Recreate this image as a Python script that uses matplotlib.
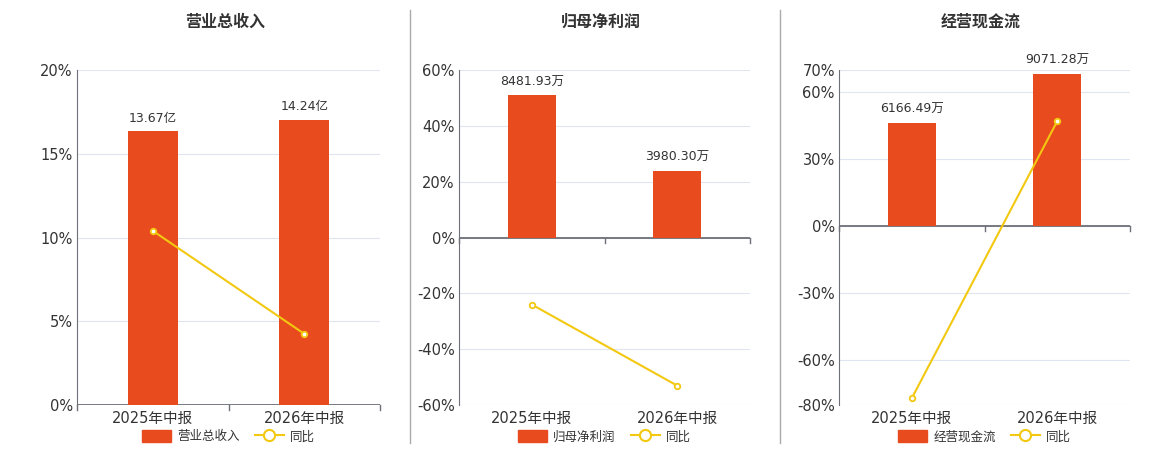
import numpy as np
import matplotlib.pyplot as plt
from matplotlib.lines import Line2D
from matplotlib.patches import Patch

plt.rcParams['font.family'] = ['DejaVu Sans', 'Noto Sans CJK SC']

periods = ['2025年中报', '2026年中报']

titles = ['营业总收入', '归母净利润', '经营现金流']

revenue = [13.67, 14.24]          # 亿
revenue_labels = ['13.67亿', '14.24亿']
revenue_yoy = [10.4, 4.25]

profit = [8481.93, 3980.30]       # 万
profit_labels = ['8481.93万', '3980.30万']
profit_yoy = [-24.0, -53.07]

cashflow = [6166.49, 9071.28]     # 万
cashflow_labels = ['6166.49万', '9071.28万']
cashflow_yoy = [-77.0, 47.1]

# axis settings
pct_ticks = [[0, 5, 10, 15, 20], [-60, -40, -20, 0, 20, 40, 60], [-80, -60, -30, 0, 30, 60, 70]]
pct_lims = [(0, 20), (-60, 60), (-80, 70)]
bar_lims = [(0, 16.74), (-10000, 10000), (-10683, 9310)]

BAR_COLOR = '#E84B1E'
LINE_COLOR = '#F2C811'
GRID_COLOR = '#E0E6F1'
AXIS_COLOR = '#6E7079'
TEXT_COLOR = '#333333'

fig = plt.figure(figsize=(11.6, 4.5), dpi=100)

lefts = [77 / 1160, 459 / 1160, 839 / 1160]
widths = [303 / 1160, 291 / 1160, 291 / 1160]

bars = [revenue, profit, cashflow]
bar_texts = [revenue_labels, profit_labels, cashflow_labels]
yoys = [revenue_yoy, profit_yoy, cashflow_yoy]

x = np.arange(len(periods))

for i in range(3):
    ax = fig.add_axes([lefts[i], 0.1, widths[i], 0.7444])
    ax2 = ax.twinx()

    # percentage axis (left, visible)
    ax.set_ylim(*pct_lims[i])
    ax.set_yticks(pct_ticks[i])
    ax.set_yticklabels([f'{t}%' for t in pct_ticks[i]], fontsize=10.5, color=TEXT_COLOR)
    ax.set_xlim(-0.5, 1.5)
    ax.grid(axis='y', color=GRID_COLOR, linewidth=0.8)
    ax.set_axisbelow(True)
    for s in ['top', 'right', 'bottom']:
        ax.spines[s].set_visible(False)
    ax.spines['left'].set_color(AXIS_COLOR)
    ax.tick_params(axis='y', length=0, pad=3)
    ax.axhline(0, color=AXIS_COLOR, linewidth=1.3, zorder=3)
    ax.set_xticks([])
    # category labels and boundary ticks
    for j, p in enumerate(periods):
        ax.text(j, -0.018, p, transform=ax.get_xaxis_transform(), ha='center', va='top',
                fontsize=10.5, color=TEXT_COLOR, family=['DejaVu Sans', 'Noto Sans CJK SC'])
    y0 = ax.transLimits.transform((0, 0))[1]
    for b in [-0.5, 0.5, 1.5]:
        ax.plot([b, b], [y0, y0 - 0.015], transform=ax.get_xaxis_transform(),
                color=AXIS_COLOR, linewidth=1, clip_on=False)

    # bars on hidden secondary axis
    ax2.set_ylim(*bar_lims[i])
    ax2.set_yticks([])
    for s in ax2.spines.values():
        s.set_visible(False)
    ax2.bar(x, bars[i], width=0.33, color=BAR_COLOR, zorder=2)
    for j, v in enumerate(bars[i]):
        ax2.annotate(bar_texts[i][j], (x[j], v), xytext=(0, 5), textcoords='offset points',
                     ha='center', va='bottom', fontsize=9, color=TEXT_COLOR,
                     family=['DejaVu Sans', 'Noto Sans CJK SC'])

    # yoy line drawn above bars
    ax3 = ax.twinx()
    ax3.set_ylim(*pct_lims[i])
    ax3.set_yticks([])
    for s in ax3.spines.values():
        s.set_visible(False)
    ax3.plot(x, yoys[i], color=LINE_COLOR, linewidth=1.5, marker='o', markersize=4,
             markerfacecolor='white', markeredgecolor=LINE_COLOR, markeredgewidth=1.3)

    fig.text(lefts[i] + widths[i] / 2 - 0.003, 1 - 22 / 450, titles[i], ha='center', va='center',
             fontsize=11.5, fontweight='bold', color=TEXT_COLOR, family='Noto Sans CJK SC')

    handles = [Patch(facecolor=BAR_COLOR, edgecolor=BAR_COLOR),
               Line2D([0], [0], color=LINE_COLOR, linewidth=1.5, marker='o', markersize=8,
                      markerfacecolor='white', markeredgecolor=LINE_COLOR, markeredgewidth=1.5)]
    leg = ax.legend(handles, [titles[i], '同比'], loc='center', bbox_to_anchor=(0.5, -0.095),
                    ncol=2, frameon=False, fontsize=9, handlelength=2.3, handleheight=1.0,
                    columnspacing=1.2, handletextpad=0.5, borderpad=0)
    for t in leg.get_texts():
        t.set_color(TEXT_COLOR)
        t.set_family('Noto Sans CJK SC')

# panel separators
for xs in [410 / 1160, 780 / 1160]:
    fig.add_artist(Line2D([xs, xs], [1 - 10 / 450, 1 - 443 / 450], color='#AAAAAA', linewidth=1))

fig.savefig('out.png', dpi=100)
